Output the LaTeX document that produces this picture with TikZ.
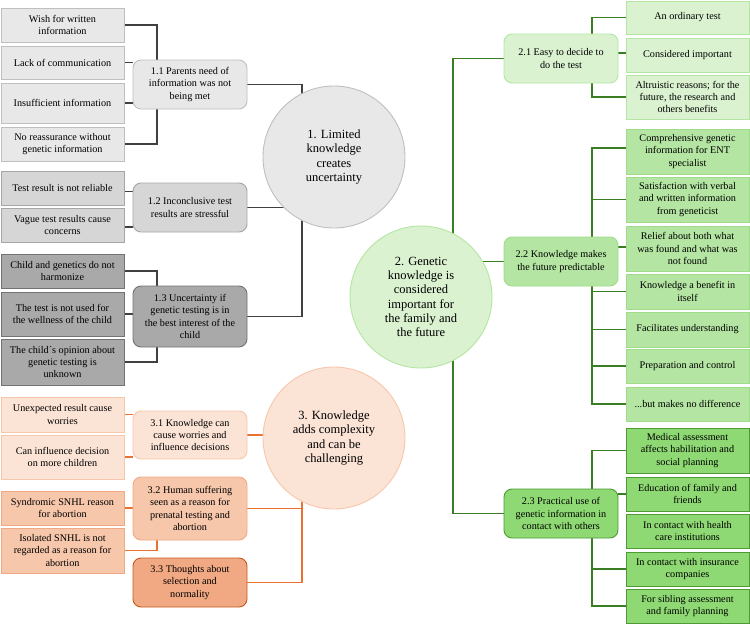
\documentclass[tikz,border=0pt]{standalone}
\usepackage{fontspec}
\setmainfont{Liberation Serif}
\pgfdeclarelayer{bg}
\pgfsetlayers{bg,main}
\definecolor{ln1}{HTML}{404040}
\definecolor{ln2}{HTML}{3B7D23}
\definecolor{ln3}{HTML}{E97132}
\definecolor{f1a}{HTML}{E8E8E8}\definecolor{d1a}{HTML}{BFBFBF}
\definecolor{f1b}{HTML}{D6D6D6}\definecolor{d1b}{HTML}{A6A6A6}
\definecolor{f1c}{HTML}{A9A9A9}\definecolor{d1c}{HTML}{737373}
\definecolor{f2a}{HTML}{DAF2D0}\definecolor{d2a}{HTML}{B4E5A2}
\definecolor{f2b}{HTML}{B4E5A2}\definecolor{d2b}{HTML}{9FDC8A}
\definecolor{f2c}{HTML}{8ED973}\definecolor{d2c}{HTML}{4E9A35}
\definecolor{f3a}{HTML}{FBE3D6}\definecolor{d3a}{HTML}{F7C7AC}
\definecolor{f3b}{HTML}{F7C7AC}\definecolor{d3b}{HTML}{F1A983}
\definecolor{f3c}{HTML}{F1A983}\definecolor{d3c}{HTML}{C65A1E}
\tikzset{
  box/.style={draw, line width=0.9pt, inner sep=0pt, align=center, font=\fontsize{10.2}{12.3}\selectfont, text=black},
  lleaf/.style={box, minimum width=123pt},
  rleaf/.style={box, minimum width=123pt},
  sub/.style={box, minimum width=114pt, rounded corners=8pt},
  themec/.style={circle, draw, line width=0.9pt, inner sep=0pt, minimum size=142pt, align=center, font=\fontsize{12.5}{14.3}\selectfont},
  c1a/.style={fill=f1a, draw=d1a}, c1b/.style={fill=f1b, draw=d1b}, c1c/.style={fill=f1c, draw=d1c},
  c2a/.style={fill=f2a, draw=d2a}, c2b/.style={fill=f2b, draw=d2b}, c2c/.style={fill=f2c, draw=d2c},
  c3a/.style={fill=f3a, draw=d3a}, c3b/.style={fill=f3b, draw=d3b}, c3c/.style={fill=f3c, draw=d3c},
  con1/.style={draw=ln1, line width=1.6pt},
  con2/.style={draw=ln2, line width=1.6pt},
  con3/.style={draw=ln3, line width=1.6pt},
}
\begin{document}
\begin{tikzpicture}[x=1pt,y=-1pt]
\useasboundingbox (0,0) rectangle (750,624);
% circles
\node[themec, c1a] (C1) at (334,157) {1. Limited\\knowledge\\creates\\uncertainty};
\node[themec, c2a] (C2) at (421,297) {2. Genetic\\knowledge is\\considered\\important for\\the family and\\the future};
\node[themec, c3a] (C3) at (334,438) {3. Knowledge\\adds complexity\\and can be\\challenging};
% left leaves
\node[lleaf, c1a, minimum height=34pt] (L1) at (62.5,25) {Wish for written\\information};
\node[lleaf, c1a, minimum height=33pt] (L2) at (62.5,62.5) {Lack of communication};
\node[lleaf, c1a, minimum height=40pt] (L3) at (62.5,103) {Insufficient information};
\node[lleaf, c1a, minimum height=34pt] (L4) at (62.5,144) {No reassurance without\\genetic information};
\node[lleaf, c1b, minimum height=34pt] (L5) at (62.5,188) {Test result is not reliable};
\node[lleaf, c1b, minimum height=34pt] (L6) at (62.5,225) {Vague test results cause\\concerns};
\node[lleaf, c1c, minimum height=34pt] (L7) at (62.5,271) {Child and genetics do not\\harmonize};
\node[lleaf, c1c, minimum height=44pt] (L8) at (62.5,314) {The test is not used for\\the wellness of the child};
\node[lleaf, c1c, minimum height=46pt] (L9) at (62.5,362) {The child´s opinion about\\genetic testing is\\unknown};
\node[lleaf, c3a, minimum height=35pt] (L10) at (62.5,414.5) {Unexpected result cause\\worries};
\node[lleaf, c3a, minimum height=44pt] (L11) at (62.5,457) {Can influence decision\\on more children};
\node[lleaf, c3b, minimum height=34pt] (L12) at (62.5,508) {Syndromic SNHL reason\\for abortion};
\node[lleaf, c3b, minimum height=45pt] (L13) at (62.5,550.5) {Isolated SNHL is not\\regarded as a reason for\\abortion};
% left subthemes
\node[sub, c1a, minimum height=49pt] (S11) at (190,84.5) {1.1 Parents need of\\information was not\\being met};
\node[sub, c1b, minimum height=49pt] (S12) at (190,207.5) {1.2 Inconclusive test\\results are stressful};
\node[sub, c1c, minimum height=61pt] (S13) at (190,316.5) {1.3 Uncertainty if\\genetic testing is in\\the best interest of the\\child};
\node[sub, c3a, minimum height=48pt] (S31) at (190,435) {3.1 Knowledge can\\cause worries and\\influence decisions};
\node[sub, c3b, minimum height=63pt] (S32) at (190,508.5) {3.2 Human suffering\\seen as a reason for\\prenatal testing and\\abortion};
\node[sub, c3c, minimum height=49pt] (S33) at (190,582.5) {3.3 Thoughts about\\selection and\\normality};
% right subthemes
\node[sub, c2a, minimum height=49pt] (S21) at (561,58.5) {2.1 Easy to decide to\\do the test};
\node[sub, c2b, minimum height=49pt] (S22) at (561,261.5) {2.2 Knowledge makes\\the future predictable};
\node[sub, c2c, minimum height=49pt] (S23) at (561,513.5) {2.3 Practical use of\\genetic information in\\contact with others};
% right leaves
\node[rleaf, c2a, minimum height=33pt] (R1) at (687.5,17.5) {An ordinary test};
\node[rleaf, c2a, minimum height=34pt] (R2) at (687.5,55) {Considered important};
\node[rleaf, c2a, minimum height=44pt] (R3) at (687.5,97) {Altruistic reasons; for the\\future, the research and\\others benefits};
\node[rleaf, c2b, minimum height=45pt] (R4) at (687.5,151.5) {Comprehensive genetic\\information for ENT\\specialist};
\node[rleaf, c2b, minimum height=45pt] (R5) at (687.5,199.5) {Satisfaction with verbal\\and written information\\from geneticist};
\node[rleaf, c2b, minimum height=45pt] (R6) at (687.5,248.5) {Relief about both what\\was found and what was\\not found};
\node[rleaf, c2b, minimum height=35pt] (R7) at (687.5,291.5) {Knowledge a benefit in\\itself};
\node[rleaf, c2b, minimum height=35pt] (R8) at (687.5,329.5) {Facilitates understanding};
\node[rleaf, c2b, minimum height=34pt] (R9) at (687.5,366) {Preparation and control};
\node[rleaf, c2b, minimum height=34pt] (R10) at (687.5,404) {...but makes no difference};
\node[rleaf, c2c, minimum height=45pt] (R11) at (687.5,450.5) {Medical assessment\\affects habilitation and\\social planning};
\node[rleaf, c2c, minimum height=34pt] (R12) at (687.5,494) {Education of family and\\friends};
\node[rleaf, c2c, minimum height=34pt] (R13) at (687.5,531) {In contact with health\\care institutions};
\node[rleaf, c2c, minimum height=34pt] (R14) at (687.5,569) {In contact with insurance\\companies};
\node[rleaf, c2c, minimum height=34pt] (R15) at (687.5,606) {For sibling assessment\\and family planning};
% helper coordinates
\coordinate (lx) at (157,0);
\coordinate (rx) at (592,0);
\coordinate (t1) at (302,157);
\coordinate (t3) at (302,438);
\coordinate (t2) at (453,297);
\begin{pgfonlayer}{bg}
% theme 1
\draw[con1] (S11.east) -| (t1);
\draw[con1] (S12.east) -- (S12.east -| C1.center);
\draw[con1] (S13.east) -| (t1);
\draw[con1] (L1.east) -| (lx |- S11.north);
\draw[con1] (L2.east) -- (L2.east -| S11.west);
\draw[con1] (L3.east) -- (L3.east -| S11.west);
\draw[con1] (L4.east) -| (lx |- S11.south);
\draw[con1] ([yshift=-3.5pt]L5.east) -- ([yshift=-3.5pt]L5.east -| S12.west);
\draw[con1] ([yshift=-2pt]L6.east) -- ([yshift=-2pt]L6.east -| S12.west);
\draw[con1] (L7.east) -| (lx |- S13.north);
\draw[con1] (L8.east) -- (L8.east -| S13.west);
\draw[con1] (L9.east) -| (lx |- S13.south);
% theme 3
\draw[con3] (S31.east) -- (S31.east -| C3.center);
\draw[con3] (S32.east) -| (t3);
\draw[con3] (S33.east) -| (t3);
\draw[con3] (L10.east) -- (L10.east -| S31.west);
\draw[con3] (L11.east) -- (L11.east -| S31.west);
\draw[con3] (L12.east) -- (L12.east -| S32.west);
\draw[con3] (L13.east) -| (lx |- S32.south);
% theme 2
\draw[con2] (S21.west) -| (t2);
\draw[con2] (S22.west) -- (S22.west -| C2.center);
\draw[con2] (S23.west) -| (t2);
\draw[con2] (R1.west) -| (rx |- S21.north);
\draw[con2] ([yshift=2pt]R2.west) -- ([yshift=2pt]R2.west -| S21.east);
\draw[con2] (R3.west) -| (rx |- S21.south);
\draw[con2] ([yshift=3.5pt]R4.west) -| (rx |- S22.north);
\draw[con2] (R5.west) -- (rx |- R5.west);
\draw[con2] ([yshift=1.5pt]R6.west) -- ([yshift=1.5pt]R6.west -| S22.east);
\draw[con2] (rx |- S22.south) -- (rx |- R10.west) -- (R10.west);
\draw[con2] (R7.west) -- (rx |- R7.west);
\draw[con2] (R8.west) -- (rx |- R8.west);
\draw[con2] (R9.west) -- (rx |- R9.west);
\draw[con2] (R11.west) -| (rx |- S23.north);
\draw[con2] (R12.west) -- (R12.west -| S23.east);
\draw[con2] (R14.west) -- (rx |- R14.west);
\draw[con2] (R15.west) -| (rx |- S23.south);
\end{pgfonlayer}
\end{tikzpicture}
\end{document}
